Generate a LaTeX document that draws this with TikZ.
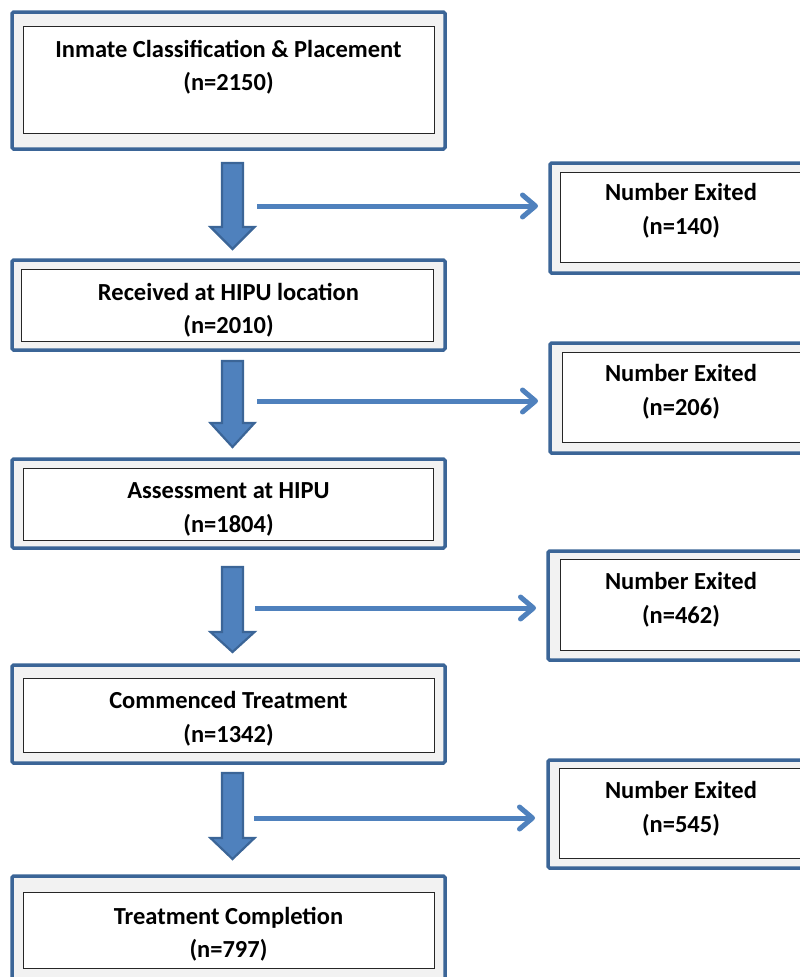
\documentclass[tikz,border=0pt]{standalone}
\usepackage{fontspec}
\setmainfont{Carlito}
\usetikzlibrary{arrows.meta}
\definecolor{boxblue}{HTML}{3B6597}
\definecolor{arrowblue}{HTML}{4F81BD}
\definecolor{arrowedge}{HTML}{3B6597}
\definecolor{boxgray}{HTML}{F2F2F2}
\tikzset{
  outerbox/.style={draw=boxblue, line width=3.5pt, fill=boxgray, rounded corners=1.5pt, inner sep=0pt, outer sep=0pt},
  innerbox/.style={draw=black!85, line width=1pt, fill=white, inner sep=0pt, outer sep=0pt},
  lbl/.style={font=\fontsize{24.5}{30}\selectfont\bfseries, anchor=base, inner sep=0pt},
  exitarrow/.style={draw=arrowblue, line width=5pt, -{Straight Barb[length=13pt,width=22pt,line cap=round,line join=round]}},
  downarrow/.style={fill=arrowblue, draw=arrowedge, line width=2.2pt, line join=miter},
}
\newcommand{\downarr}[3]{%
  \path[downarrow] (222,#1) -- (243,#1) -- (243,#2) -- (254.5,#2) -- (232.5,#3) -- (210.5,#2) -- (222,#2) -- cycle;}
\begin{document}
\begin{tikzpicture}[x=1pt,y=-1pt]
\useasboundingbox (0,0) rectangle (800,977);
\clip (0,0) rectangle (800,977);

% left boxes
\node[outerbox, minimum width=433pt, minimum height=137pt] (b1) at (228.5,80.5) {};
\node[innerbox, minimum width=411pt, minimum height=107pt] (i1) at (228.5,79.5) {};
\node[lbl] (t1a) at (228.5,57) {Inmate Classification \& Placement};
\node[lbl] (t1b) at (228.5,90) {(n=2150)};

\node[outerbox, minimum width=433pt, minimum height=90pt] (b2) at (228.5,305) {};
\node[innerbox, minimum width=412pt, minimum height=72pt] (i2) at (227,305) {};
\node[lbl] (t2a) at (228.5,300) {Received at HIPU location};
\node[lbl] (t2b) at (228.5,333) {(n=2010)};

\node[outerbox, minimum width=433pt, minimum height=89pt] (b3) at (228.5,503.5) {};
\node[innerbox, minimum width=410pt, minimum height=72pt] (i3) at (228,504) {};
\node[lbl] (t3a) at (228.5,498) {Assessment at HIPU};
\node[lbl] (t3b) at (228.5,532) {(n=1804)};

\node[outerbox, minimum width=433pt, minimum height=98pt] (b4) at (228.5,714) {};
\node[innerbox, minimum width=411pt, minimum height=74pt] (i4) at (228.5,715) {};
\node[lbl] (t4a) at (228.5,708) {Commenced Treatment};
\node[lbl] (t4b) at (228.5,742) {(n=1342)};

\node[outerbox, minimum width=433pt, minimum height=114pt] (b5) at (228.5,933) {};
\node[innerbox, minimum width=411pt, minimum height=76pt] (i5) at (228.5,930) {};
\node[lbl] (t5a) at (228.5,924) {Treatment Completion};
\node[lbl] (t5b) at (228.5,957) {(n=797)};

% right boxes
\node[outerbox, minimum width=262pt, minimum height=110pt] (r1) at (681,218) {};
\node[innerbox, minimum width=242pt, minimum height=90pt] (ri1) at (681,217) {};
\node[lbl] (u1a) at (681,200) {Number Exited};
\node[lbl] (u1b) at (681,234) {(n=140)};

\node[outerbox, minimum width=262pt, minimum height=110pt] (r2) at (681,398) {};
\node[innerbox, minimum width=238pt, minimum height=90pt] (ri2) at (681,397) {};
\node[lbl] (u2a) at (681,381) {Number Exited};
\node[lbl] (u2b) at (681,415) {(n=206)};

\node[outerbox, minimum width=266pt, minimum height=109pt] (r3) at (681,605.5) {};
\node[innerbox, minimum width=242pt, minimum height=91pt] (ri3) at (681,604.5) {};
\node[lbl] (u3a) at (681,589) {Number Exited};
\node[lbl] (u3b) at (681,623) {(n=462)};

\node[outerbox, minimum width=266pt, minimum height=108pt] (r4) at (681,814) {};
\node[innerbox, minimum width=244pt, minimum height=90pt] (ri4) at (681,813) {};
\node[lbl] (u4a) at (681,798) {Number Exited};
\node[lbl] (u4b) at (681,832) {(n=545)};

% down block arrows
\downarr{163}{227}{249}
\downarr{361}{423}{447}
\downarr{567}{632}{652}
\downarr{773}{838}{859}

% exit arrows
\coordinate (s1) at (257,206);
\coordinate (s2) at (257,401);
\coordinate (s3) at (255,608);
\coordinate (s4) at (254,818);
\draw[exitarrow] (s1) -- ([xshift=-12pt]s1 -| r1.west);
\draw[exitarrow] (s2) -- ([xshift=-12pt]s2 -| r2.west);
\draw[exitarrow] (s3) -- ([xshift=-12pt]s3 -| r3.west);
\draw[exitarrow] (s4) -- ([xshift=-13pt]s4 -| r4.west);
\end{tikzpicture}
\end{document}
